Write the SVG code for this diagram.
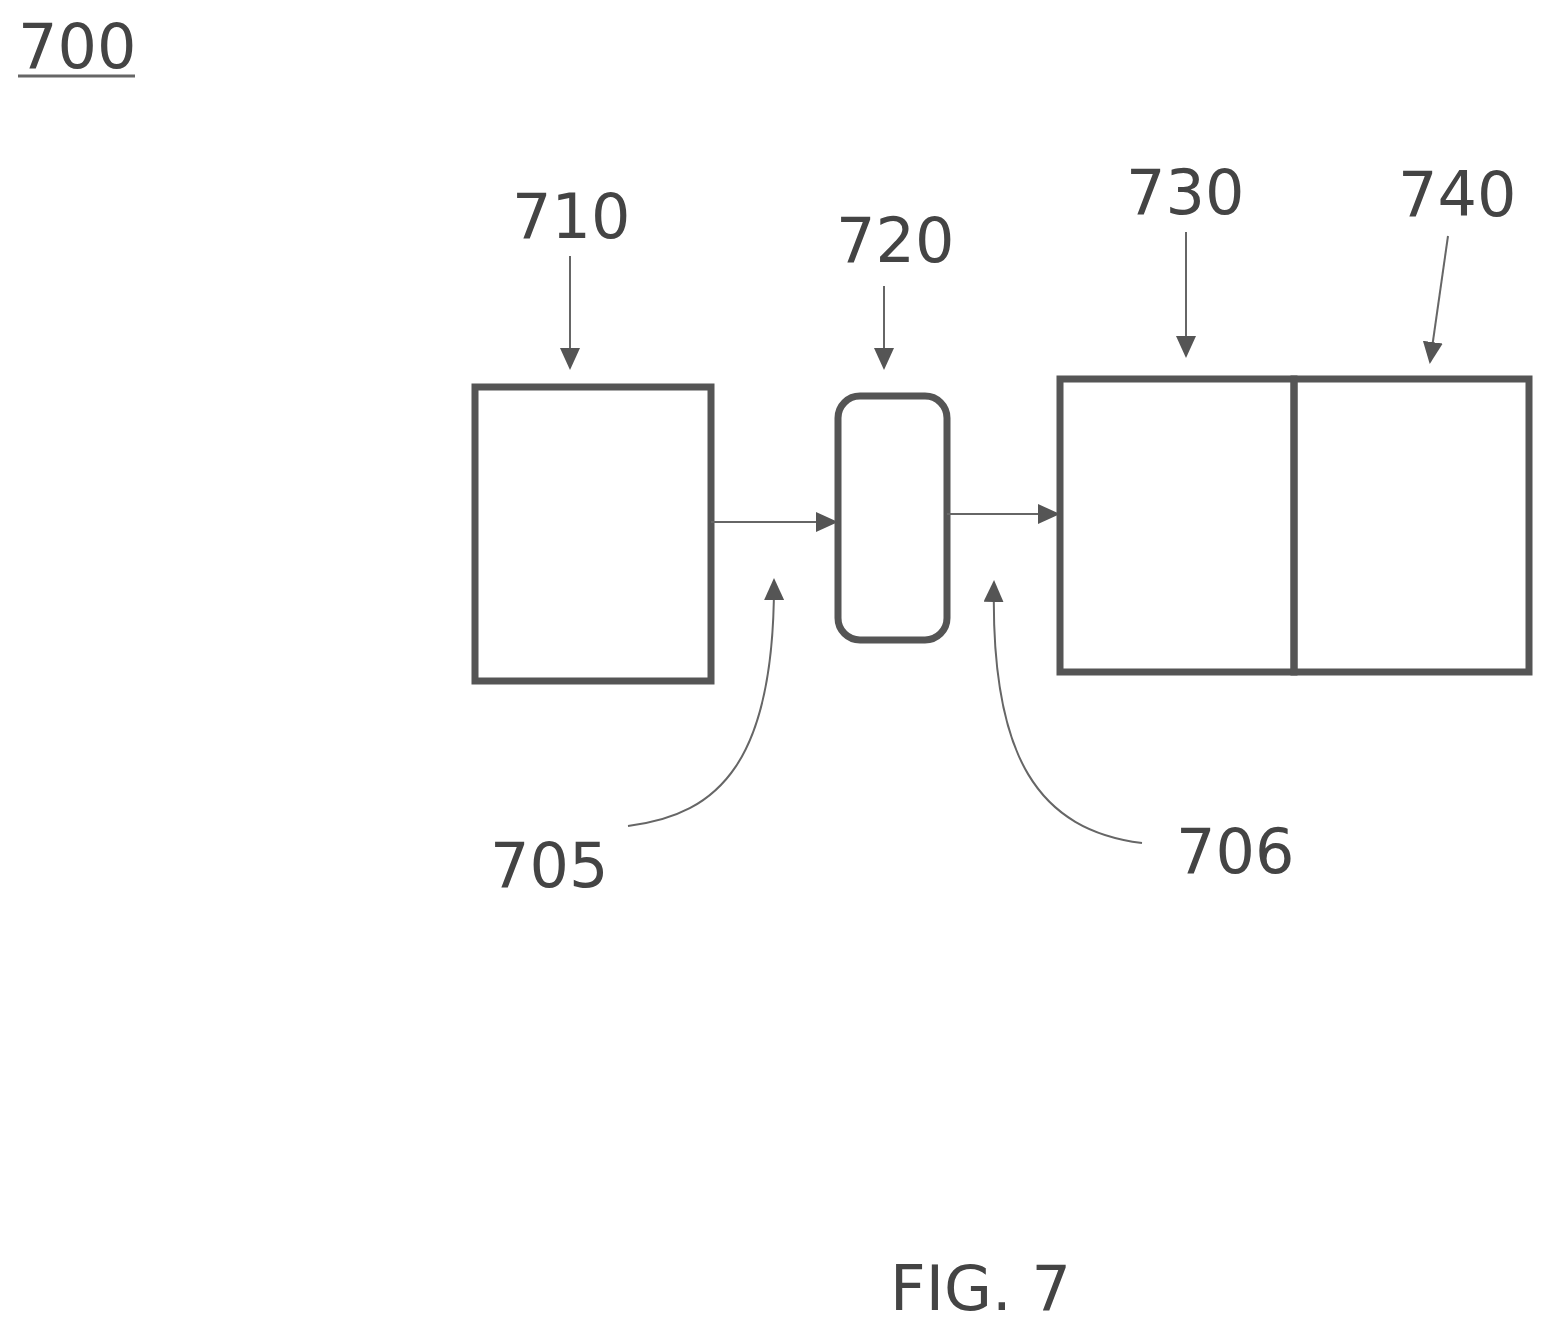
<svg xmlns="http://www.w3.org/2000/svg" width="1553" height="1330" viewBox="0 0 1553 1330">
<style>
.box{fill:none;stroke:#555;stroke-width:7}
.ln{fill:none;stroke:#666;stroke-width:2}
.t{font-family:"DejaVu Sans",sans-serif;font-size:62px;fill:#444}
</style>
<defs><marker id="a" markerWidth="10" markerHeight="10" refX="9" refY="5" orient="auto" markerUnits="userSpaceOnUse" viewBox="0 0 10 10"><path d="M0,0L10,5L0,10z" fill="#555"/></marker>
<marker id="b" markerWidth="22" markerHeight="20" refX="20" refY="10" orient="auto" markerUnits="userSpaceOnUse"><path d="M0,0L22,10L0,20z" fill="#555"/></marker></defs>
<rect width="1553" height="1330" fill="#fff"/>
<text class="t" x="18" y="68" font-size="50">700</text>
<line x1="18" y1="76" x2="135" y2="76" stroke="#666" stroke-width="3"/>
<g id="n710"><rect class="box" x="475" y="387" width="236" height="294"/></g>
<g id="n720"><rect class="box" x="838" y="396" width="109" height="244" rx="22"/></g>
<g id="n730"><rect class="box" x="1060" y="379" width="234" height="293"/></g>
<g id="n740"><rect class="box" x="1294" y="379" width="235" height="293"/></g>
<g id="connectors">
<line class="ln" x1="711" y1="522" x2="836" y2="522" marker-end="url(#b)"/>
<line class="ln" x1="947" y1="514" x2="1058" y2="514" marker-end="url(#b)"/>
<line class="ln" x1="570" y1="256" x2="570" y2="368" marker-end="url(#b)"/>
<line class="ln" x1="884" y1="286" x2="884" y2="368" marker-end="url(#b)"/>
<line class="ln" x1="1186" y1="232" x2="1186" y2="356" marker-end="url(#b)"/>
<line class="ln" x1="1448" y1="236" x2="1430" y2="362" marker-end="url(#b)"/>
<path class="ln" d="M628,826 C720,815 775,760 774,580" marker-end="url(#b)"/>
<path class="ln" d="M1142,843 C1040,830 990,760 994,582" marker-end="url(#b)"/>
</g>
<text class="t" x="512" y="238">710</text>
<text class="t" x="836" y="262">720</text>
<text class="t" x="1126" y="214">730</text>
<text class="t" x="1398" y="216">740</text>
<text class="t" x="490" y="887">705</text>
<text class="t" x="1176" y="873">706</text>
<text class="t" x="890" y="1310" font-size="56">FIG. 7</text>
</svg>
